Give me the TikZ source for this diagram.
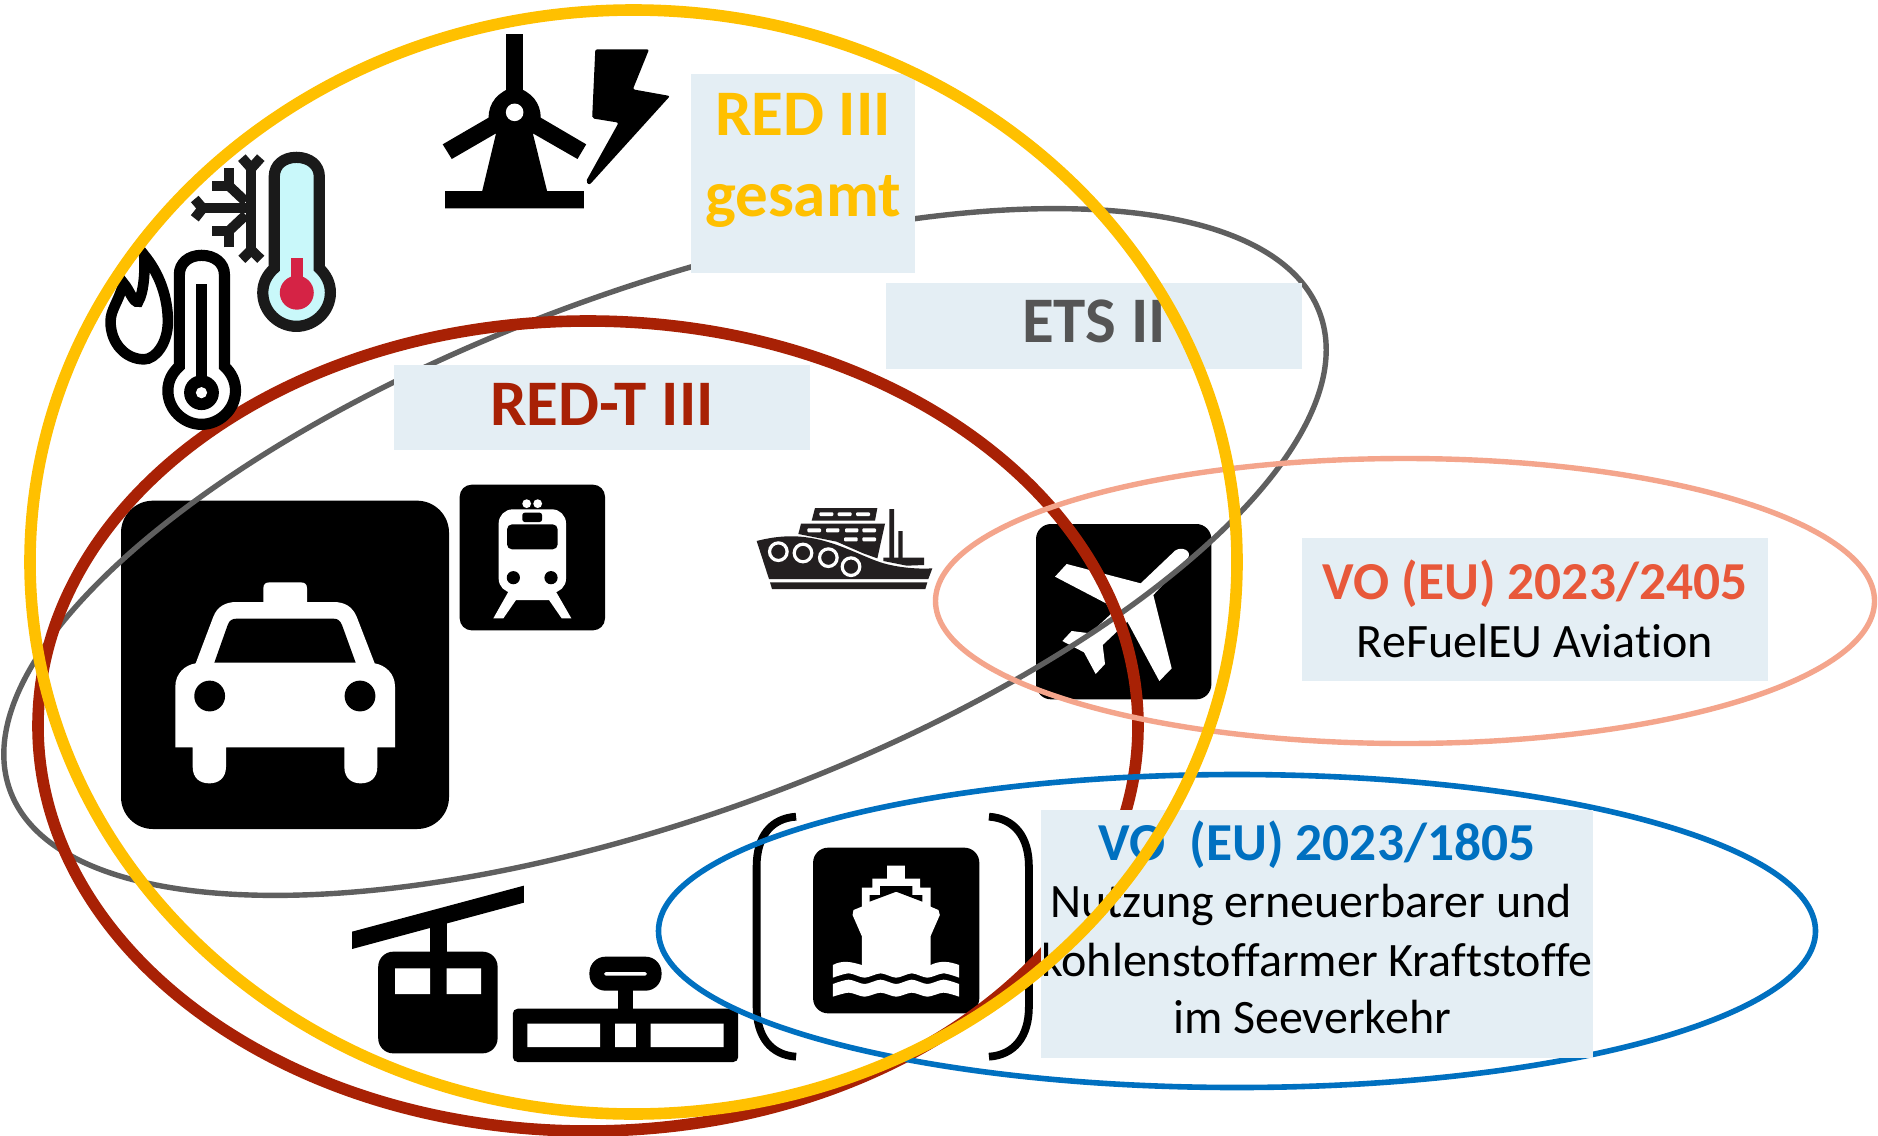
\documentclass[tikz,border=0pt]{standalone}
\usepackage{fontspec}
\setmainfont[Ligatures=NoCommon]{Carlito}
\definecolor{yel}{HTML}{FFC000}
\definecolor{redd}{HTML}{A82105}
\definecolor{grayy}{HTML}{5F5F5F}
\definecolor{salm}{HTML}{F4A58C}
\definecolor{bluu}{HTML}{0070C0}
\definecolor{boxc}{HTML}{E4EEF4}
\definecolor{orng}{HTML}{E8583A}
\definecolor{inkk}{HTML}{1A1A1A}
\definecolor{hull}{HTML}{231F20}
\definecolor{coldc}{HTML}{C9F8FA}
\definecolor{merc}{HTML}{D52345}
\tikzset{
  lbox/.style={fill=boxc,draw=none,inner sep=0pt},
  ttl/.style={anchor=base,inner sep=0pt,font=\bfseries\fontsize{32.5}{36}\selectfont},
  vottl/.style={anchor=base,inner sep=0pt,font=\bfseries\fontsize{26.7}{30}\selectfont},
  body/.style={anchor=base,inner sep=0pt,font=\fontsize{24}{28}\selectfont,text=black},
  zA/.style={shift={(90,20)},x=0.1977pt,y=-0.16667pt},
  zB/.style={shift={(100,470)},x=0.16667pt,y=-0.16667pt},
  zC/.style={shift={(720,480)},x=0.16667pt,y=-0.16667pt},
  zD/.style={shift={(330,800)},x=0.2296pt,y=-0.16667pt},
}
\def\thermopath{(466,745) .. controls (447,765) and (437,790) .. (437,818) .. controls (437,875) and (477,919) .. (522,919) .. controls (567,919) and (608,875) .. (608,818) .. controls (608,790) and (598,765) .. (580,745) -- (580,470) .. controls (580,435) and (555,412) .. (522,412) .. controls (490,412) and (466,435) .. (466,470) -- cycle}
\begin{document}
\begin{tikzpicture}[x=0.5pt,y=-0.5pt]
\useasboundingbox (0,0) rectangle (1878,1135);
\fill[white] (0,0) rectangle (1878,1135);

% --- taxi + train
\begin{scope}[zB]
  \fill[black,rounded corners=16pt] (63,92) rectangle (1047,1077);
  \fill[white] (226,832) -- (226,650) .. controls (226,610) and (255,585) .. (287,580) -- (340,440) .. controls (352,410) and (375,396) .. (410,396) -- (490,396) -- (490,355) .. controls (490,342) and (497,337) .. (510,337) -- (601,337) .. controls (614,337) and (621,342) .. (621,355) -- (621,396) -- (700,396) .. controls (735,396) and (757,410) .. (770,440) -- (824,580) .. controls (855,585) and (885,610) .. (885,650) -- (885,832) -- (832,832) -- (832,890) .. controls (832,925) and (810,940) .. (782,940) .. controls (755,940) and (733,925) .. (733,890) -- (733,832) -- (378,832) -- (378,890) .. controls (378,925) and (355,940) .. (328,940) .. controls (300,940) and (278,925) .. (278,890) -- (278,832) -- cycle;
  \fill[black] (343,578) -- (383,465) .. controls (388,450) and (398,446) .. (410,446) -- (700,446) .. controls (712,446) and (720,450) .. (726,465) -- (767,578) -- cycle;
  \fill[black] (329,678) circle[radius=7.7pt] (780,678) circle[radius=7.7pt];
  % train
  \fill[black,rounded corners=6pt] (1079,44) rectangle (1515,481);
  \fill[white] (1280,101) circle[radius=2.2pt] (1313,101) circle[radius=2.2pt];
  \fill[white] (1228,360) -- (1180,445) -- (1210,445) -- (1248,390) -- (1347,390) -- (1385,445) -- (1414,445) -- (1365,360) -- cycle;
  \fill[white,rounded corners=7pt] (1196,118) rectangle (1398,368);
  \fill[black,rounded corners=1.2pt] (1267,128) rectangle (1326,156);
  \fill[black,rounded corners=2.5pt] (1221,163) rectangle (1373,238);
  \fill[black] (1240,323) circle[radius=3.3pt] (1353,323) circle[radius=3.3pt];
\end{scope}

% --- small ship + plane
\begin{scope}[zC]
  \fill[hull] (110,183) .. controls (160,170) and (210,165) .. (260,172) .. controls (340,182) and (420,225) .. (470,243) .. controls (520,262) and (590,268) .. (637,265) -- (625,297) -- (147,297) -- cycle;
  \fill[hull] (150,307) -- (622,307) -- (616,327) -- (156,327) -- cycle;
  \fill[hull] (285,84) -- (472,84) -- (465,122) -- (275,122) -- cycle;
  \fill[hull] (243,131) -- (495,131) -- (472,235) -- (430,220) -- (350,185) -- (235,162) -- cycle;
  \fill[white,rounded corners=0.5pt] (298,97) rectangle (340,108) (353,97) rectangle (395,108) (408,97) rectangle (450,108)
     (262,145) rectangle (303,157) (318,145) rectangle (358,157) (375,145) rectangle (415,157) (427,145) rectangle (468,157)
     (372,172) rectangle (413,184) (427,172) rectangle (468,184);
  \fill[hull] (508,87) rectangle (522,240) (535,153) rectangle (548,240);
  \fill[hull] (490,233) -- (612,233) -- (612,255) -- (560,257) -- (490,243) -- cycle;
  \draw[white,line width=1.6pt] (175,215) circle[radius=4.4pt] (249,219) circle[radius=4.4pt] (325,233) circle[radius=4.4pt] (393,260) circle[radius=4.4pt];
  % plane
  \fill[black,rounded corners=7.5pt] (948,132) rectangle (1474,658);
  \fill[white] (1262,310) -- (1365,212) .. controls (1385,198) and (1415,212) .. (1405,232) -- (1300,345) -- (1355,565) -- (1318,603) -- (1222,425) -- (1148,495) -- (1155,552) -- (1127,582) -- (1092,517) -- (1027,483) -- (1055,453) -- (1110,460) -- (1175,400) -- (1158,370) -- (1005,290) -- (1040,252) -- cycle;
\end{scope}

% --- gondola, lift, brackets, ship sign
\begin{scope}[zD]
  \fill[black] (48,395) -- (422,257) -- (422,308) -- (48,447) -- cycle;
  \fill[black] (218,370) rectangle (254,460);
  \fill[black,rounded corners=7.5pt] (105,455) rectangle (365,760);
  \fill[white] (142,505) rectangle (218,582) (254,505) rectangle (329,582);
  \fill[black,rounded corners=2.5pt] (398,626) rectangle (889,786);
  \fill[white] (430,671) rectangle (588,741) (621,671) rectangle (666,741) (698,671) rectangle (857,741);
  \fill[black] (628,565) rectangle (660,630);
  \fill[black,rounded corners=8pt] (565,470) rectangle (722,572);
  \fill[white,rounded corners=0.8pt] (597,516) rectangle (690,527);
  \draw[black,line width=3.9pt] (1015,50) .. controls (960,55) and (929,110) .. (929,200) -- (929,620) .. controls (929,710) and (960,765) .. (1015,770);
  \draw[black,line width=3.9pt] (1435,50) .. controls (1490,55) and (1522,110) .. (1522,200) -- (1522,620) .. controls (1522,710) and (1490,765) .. (1435,770);
  \fill[black,rounded corners=7.5pt] (1052,143) rectangle (1414,640);
  \fill[white] (1213,197) -- (1252,197) -- (1252,236) -- (1285,236) -- (1285,263) -- (1308,263) -- (1308,320) -- (1325,330) -- (1328,345) -- (1308,408) -- (1308,500) -- (1158,500) -- (1158,408) -- (1138,345) -- (1140,330) -- (1158,320) -- (1158,263) -- (1181,263) -- (1181,236) -- (1213,236) -- cycle;
  \fill[black] (1198,258) -- (1268,258) -- (1268,285) -- (1290,285) -- (1290,305) -- (1233,275) -- (1175,305) -- (1175,285) -- (1198,285) -- cycle;
  \fill[white] (1095,495) .. controls (1115,480) and (1135,485) .. (1158,495) -- (1308,495) .. controls (1330,480) and (1350,485) .. (1370,495) -- (1370,533) -- plot[smooth] coordinates {(1370,533) (1336,520) (1301,533) (1267,520) (1233,533) (1199,520) (1164,533) (1130,520) (1095,533)} -- cycle;
  \fill[white] plot[smooth] coordinates {(1095,552) (1130,539) (1164,552) (1199,539) (1233,552) (1267,539) (1301,552) (1336,539) (1370,552)} -- (1370,590) -- plot[smooth] coordinates {(1370,590) (1336,578) (1301,590) (1267,578) (1233,590) (1199,578) (1164,590) (1130,578) (1095,590)} -- cycle;
\end{scope}

% --- wind + bolt
\begin{scope}[zA]
  \fill[black] (1052,42) rectangle (1096,230);
  \fill[black] (1008,293) .. controls (1008,250) and (1030,215) .. (1074,200) .. controls (1118,215) and (1140,250) .. (1140,293) -- (1255,373) -- (1233,417) -- (1120,340) -- (1156,513) -- (1249,513) -- (1249,565) -- (898,565) -- (898,513) -- (992,513) -- (1027,340) -- (915,417) -- (892,373) -- cycle;
  \fill[white] (1074,277) ellipse[x radius=4.4pt,y radius=4.4pt];
  \fill[black,rounded corners=1pt] (1278,88) -- (1414,88) -- (1373,208) -- (1467,228) -- (1263,495) -- (1254,485) -- (1337,308) -- (1270,295) -- cycle;
\end{scope}

% --- zones under the labels
\draw[grayy,line width=2.7pt,rotate around={20:(665,552)}] (665,552) ellipse[x radius=348.5pt,y radius=131.5pt];
\draw[redd,line width=5.8pt] (588,726) ellipse[x radius=275pt,y radius=202.5pt];
\draw[salm,line width=2.7pt] (1405,601) ellipse[x radius=234.75pt,y radius=71.25pt];
\draw[bluu,line width=2.8pt] (1237,931) ellipse[x radius=289.25pt,y radius=78.25pt];

% --- labels
\node[lbox,minimum width=112pt,minimum height=99.5pt] (boxred) at (803,173.5) {};
\node[lbox,minimum width=208pt,minimum height=43pt] (boxets) at (1094,326) {};
\node[lbox,minimum width=208pt,minimum height=42.5pt] (boxredt) at (602,407.5) {};
\node[lbox,minimum width=233pt,minimum height=71.5pt] (boxavi) at (1535,609.5) {};
\node[lbox,minimum width=276pt,minimum height=124pt] (boxsea) at (1317,934) {};

\node[ttl,text=yel] (tred) at (803,135) {RED III};
\node[ttl,text=yel] (tges) at (803,216) {gesamt};
\node[ttl,text=grayy!90!black] (tets) at (1094,342) {ETS II};
\node[ttl,text=redd] (tredt) at (602,425) {RED-T III};
\node[vottl,text=orng] (tavi) at (1535,599) {VO (EU) 2023/2405};
\node[body] (tavib) at (1535,657) {ReFuelEU Aviation};
\node[vottl,text=bluu] (tsea) at (1317,860) {VO\ \ (EU) 2023/1805};
\node[body] (ts1) at (1311,917) {Nutzung erneuerbarer und};
\node[body] (ts2) at (1317,976) {kohlenstoffarmer Kraftstoffe};
\node[body] (ts3) at (1312,1033) {im Seeverkehr};

% --- heat / cold icons
\begin{scope}[zA]
  \draw[black,fill=white,line width=5.3pt,miter limit=4] (137,705) .. controls (175,760) and (197,830) .. (197,905) .. controls (197,970) and (165,1018) .. (137,1018) .. controls (90,1018) and (52,970) .. (52,905) .. controls (52,870) and (70,850) .. (85,790) .. controls (100,810) and (110,850) .. (122,845) .. controls (135,820) and (140,760) .. (137,705) -- cycle;
  \begin{scope}[shift={(-240,294)}]
    \draw[black,fill=white,line width=5.6pt] \thermopath;
  \end{scope}
  \fill[black] (268,792) rectangle (297,1090);
  \fill[black] (282,1118) ellipse[x radius=8.7pt,y radius=8.7pt];
  \fill[white] (282,1118) ellipse[x radius=2.8pt,y radius=2.8pt];
  % cold thermometer
  \draw[inkk,fill=coldc,line width=5.6pt] \thermopath;
  \fill[merc] (508,715) rectangle (538,790);
  \fill[merc] (523,818) ellipse[x radius=8.5pt,y radius=8.5pt];
  % snowflake
  \draw[inkk,line width=5pt] (408,445) -- (408,690);
  \draw[inkk,line width=5pt] (384,413) -- (408,445) -- (432,413);
  \draw[inkk,line width=5pt] (384,718) -- (408,690) -- (432,718);
  \draw[inkk,line width=5pt] (408,565) -- (285,565);
  \draw[inkk,line width=5pt] (265,537) -- (285,565) -- (265,595);
  \draw[inkk,line width=5pt] (394,545) -- (351,497);
  \draw[inkk,line width=5pt] (351,445) -- (351,497) -- (309,497);
  \draw[inkk,line width=5pt] (394,585) -- (351,633);
  \draw[inkk,line width=5pt] (351,682) -- (351,633) -- (309,633);
\end{scope}

% --- yellow over everything
\draw[yel,line width=5.8pt] (633.5,562) ellipse[x radius=301.75pt,y radius=276pt];
\end{tikzpicture}
\end{document}
